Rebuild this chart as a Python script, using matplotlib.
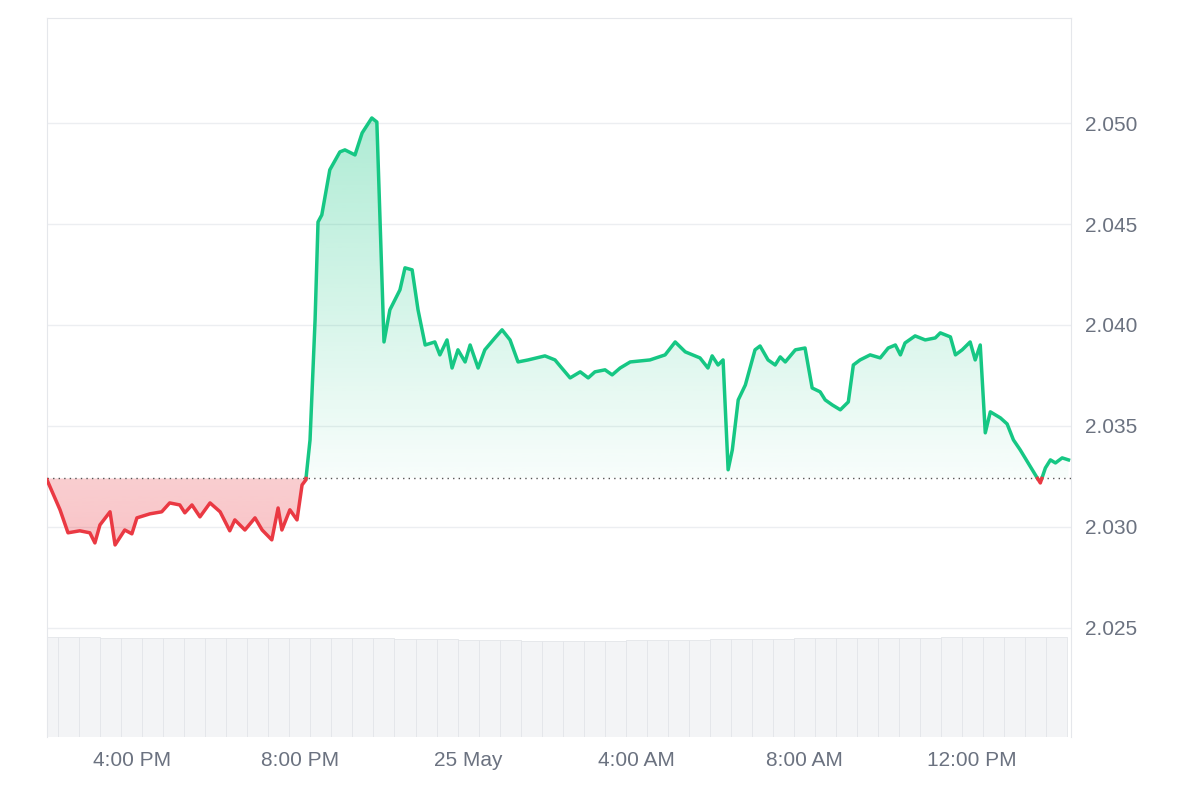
import numpy as np
import matplotlib
matplotlib.use("Agg")
import matplotlib.pyplot as plt
from matplotlib.path import Path
from matplotlib.patches import PathPatch
plt.rcParams['font.family'] = ['Liberation Sans', 'DejaVu Sans']

hours = [13.98,14.29,14.48,14.76,15.0,15.12,15.24,15.48,15.60,15.83,16.0,16.12,16.43,16.71,16.90,17.14,17.26,17.43,17.62,17.86,18.10,18.33,18.45,18.69,18.93,19.10,19.33,19.48,19.57,19.76,19.93,20.05,20.14,
 20.24,20.36,20.43,20.52,20.71,20.95,21.07,21.31,21.48,21.71,21.83,22.0,22.14,22.38,22.50,22.67,22.81,22.98,23.21,23.33,23.50,23.62,23.76,23.93,24.05,24.24,24.40,24.64,24.81,25.0,25.19,25.43,25.83,26.07,26.19,26.43,26.67,26.86,27.02,27.26,27.43,27.62,27.86,28.33,28.69,28.93,29.17,29.52,29.71,29.81,29.95,30.07,30.19,30.29,30.43,30.60,30.83,30.95,31.14,31.31,31.43,31.55,31.79,32.02,32.19,32.38,32.50,32.67,32.86,33.05,33.17,33.33,33.57,33.81,34.0,34.17,34.29,34.40,34.64,34.88,35.12,35.24,35.48,35.60,35.76,35.95,36.07,36.19,36.31,36.43,36.67,36.83,36.98,37.14,37.33,37.50,37.62,37.74,37.86,37.98,38.14,38.29]
prices = [2.03233,2.03085,2.02971,2.02981,2.02971,2.02921,2.03010,2.03075,2.02911,2.02985,2.02966,2.03045,2.03065,2.03075,2.03119,2.03109,2.03070,2.03109,2.03050,2.03119,2.03075,2.02981,2.03035,2.02985,2.03045,2.02985,2.02936,2.03094,2.02985,2.03085,2.03035,2.03208,2.03233,
 2.03431,2.04025,2.04510,2.04545,2.04768,2.04857,2.04867,2.04842,2.04951,2.05025,2.05005,2.03916,2.04075,2.04174,2.04283,2.04273,2.04075,2.03901,2.03916,2.03852,2.03926,2.03787,2.03877,2.03817,2.03901,2.03787,2.03877,2.03936,2.03976,2.03926,2.03817,2.03827,2.03847,2.03827,2.03797,2.03738,2.03768,2.03738,2.03768,2.03778,2.03753,2.03787,2.03817,2.03827,2.03852,2.03916,2.03867,2.03837,2.03787,2.03847,2.03802,2.03827,2.03283,2.03382,2.03629,2.03703,2.03877,2.03896,2.03827,2.03802,2.03842,2.03817,2.03877,2.03886,2.03688,2.03669,2.03629,2.03604,2.03580,2.03619,2.03802,2.03827,2.03852,2.03837,2.03886,2.03901,2.03852,2.03911,2.03946,2.03926,2.03936,2.03961,2.03941,2.03852,2.03877,2.03916,2.03827,2.03901,2.03466,2.03570,2.03540,2.03510,2.03431,2.03382,2.03317,2.03258,2.03218,2.03292,2.03332,2.03317,2.03342,2.03332]
baseline = 2.03240
vol_hours = list(np.arange(14.0, 38.3, 0.5))
volumes = [100,100,100,99,99,99,99,99,99,99,99,99,99,99,99,99,99,98,98,98,97,97,97,96,96,96,96,96,97,97,97,97,98,98,98,98,99,99,99,99,99,99,99,100,100,100,100,100,100][:len(vol_hours)]

t = np.array(hours); p = np.array(prices)
T=[t[0]]; P=[p[0]]
for i in range(1,len(t)):
    a,b=p[i-1]-baseline,p[i]-baseline
    if a*b<0:
        f=a/(a-b); T.append(t[i-1]+f*(t[i]-t[i-1])); P.append(baseline)
    T.append(t[i]); P.append(p[i])
T=np.array(T); P=np.array(P)

green="#16c784"; red="#ea3943"
fig=plt.figure(figsize=(12,8),dpi=100)
ax=fig.add_axes([47/1200,63/800,1024/1200,719/800])
ax.set_ylim(2.0196,2.0552); ax.set_xlim(13.98,38.35)

vax=ax.twinx(); vax.set_ylim(0,100/0.139); vax.axis("off")
vax.bar(vol_hours,volumes,width=0.5,color="#f3f4f6",edgecolor="#e3e5e9",linewidth=0.6,zorder=0)
vax.set_zorder(0); ax.set_zorder(1); ax.patch.set_visible(False)

for yy in [2.025,2.030,2.035,2.040,2.045,2.050]:
    ax.axhline(yy,color="#eceef1",lw=1,zorder=1)
ax.axhline(baseline,color="#555",lw=1,ls=(0,(1,3)),zorder=3)

def gfill(mask_fn, col, top, bot, a_top, a_bot):
    up=np.where(mask_fn(P),P,baseline)
    verts=np.column_stack([np.r_[T,T[::-1]],np.r_[up,np.full(len(T),baseline)]])
    patch=PathPatch(Path(verts),facecolor="none",edgecolor="none")
    ax.add_patch(patch)
    n=256
    img=np.zeros((n,1,4)); img[...,:3]=matplotlib.colors.to_rgb(col); img[...,3]=np.linspace(a_top,a_bot,n)[:,None]
    im=ax.imshow(img,extent=[T[0],T[-1],bot,top],aspect="auto",zorder=2,origin="upper")
    im.set_clip_path(patch)
gfill(lambda x:x>=baseline,green,2.0505,baseline,0.35,0.03)
gfill(lambda x:x<=baseline,red,baseline,2.029,0.25,0.3)

ax.plot(T,np.where(P>=baseline,P,np.nan),color=green,lw=2.5,zorder=4)
ax.plot(T,np.where(P<=baseline,P,np.nan),color=red,lw=2.5,zorder=4)

ax.yaxis.tick_right()
ax.set_yticks([2.025,2.030,2.035,2.040,2.045,2.050])
ax.set_yticklabels(["2.025","2.030","2.035","2.040","2.045","2.050"])
ax.set_xticks([16,20,24,28,32,36])
ax.set_xticklabels(["4:00 PM","8:00 PM","25 May","4:00 AM","8:00 AM","12:00 PM"])
ax.tick_params(length=0,colors="#6b7280",labelsize=15,pad=10)
ax.tick_params(axis="y",pad=10)
for s in ax.spines.values(): s.set_color("#e5e7eb")
ax.spines["bottom"].set_visible(False)
fig.savefig("out.png")
